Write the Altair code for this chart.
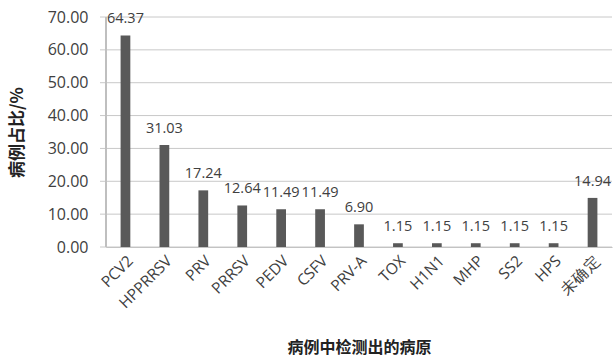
import altair as alt
import pandas as pd

categories = ["PCV2", "HPPRRSV", "PRV", "PRRSV", "PEDV", "CSFV", "PRV-A",
              "TOX", "H1N1", "MHP", "SS2", "HPS", "未确定"]
values = [64.37, 31.03, 17.24, 12.64, 11.49, 11.49, 6.90,
          1.15, 1.15, 1.15, 1.15, 1.15, 14.94]
y_ticks = [0, 10, 20, 30, 40, 50, 60, 70]

df = pd.DataFrame({"cat": categories, "val": values,
                   "lbl": [f"{v:.2f}" for v in values]})
grid_df = pd.DataFrame({"val": y_ticks})

FONT = "Open Sans"
CJK = "Noto Sans CJK SC"

x = alt.X("cat:N", sort=categories, scale=alt.Scale(paddingInner=0.75, paddingOuter=0.375),
          axis=alt.Axis(title="病例中检测出的病原", labelAngle=-45, labelAlign="right",
                        labelBaseline="top", labelFontSize=15.5, labelColor="#404040",
                        labelFont=FONT, ticks=False, domainColor="#bfbfbf",
                        titleFont=CJK, titleFontSize=16, titleFontWeight="bold",
                        titleColor="#222222", titleY=92, labelPadding=6))
yaxis = alt.Axis(title="病例占比/%", values=y_ticks,
                 format=".2f", labelFontSize=16, labelColor="#404040", labelFont=FONT,
                 ticks=False, domainColor="#bfbfbf", domainWidth=1, grid=False,
                 titleFont=CJK, titleFontSize=17,
                 titleFontWeight="bold", titleColor="#222222", titleX=-80,
                 labelPadding=18)
y = alt.Y("val:Q", scale=alt.Scale(domain=[0, 70]), axis=yaxis)

grid = alt.Chart(grid_df).mark_rule(color="#c8c8c8", strokeWidth=1).encode(
    y=y, x=alt.value(-6), x2=alt.value(506))
vline = alt.Chart(grid_df).mark_rule(color="#bfbfbf", strokeWidth=1).encode(
    x=alt.value(0), y=alt.value(0), y2=alt.value(230))
bars = alt.Chart(df).mark_bar(color="#595959").encode(x=x, y=y)
text = alt.Chart(df).mark_text(baseline="bottom", dy=-9, fontSize=14.5, font=FONT,
                               color="#404040").encode(x=x, y=y, text="lbl:N")

chart = (grid + vline + bars + text).properties(
    width=506, height=230,
    autosize=alt.AutoSizeParams(type="none"),
    padding={"left": 106, "top": 17, "right": 2, "bottom": 113},
).configure_view(stroke=None)

chart.save("out.html", embed_options={"renderer": "svg", "actions": False})
